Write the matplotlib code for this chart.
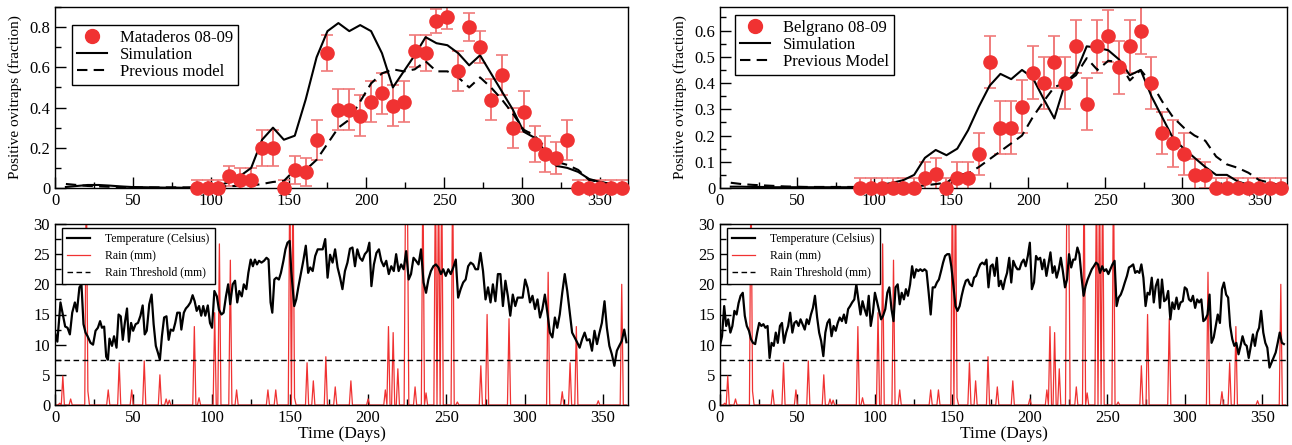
import numpy as np
import matplotlib
matplotlib.use("Agg")
import matplotlib.pyplot as plt
from matplotlib.ticker import MultipleLocator
from matplotlib.lines import Line2D

plt.rcParams['font.family'] = ['Liberation Serif', 'DejaVu Serif']

# ---------------- data ----------------
obs_days = [91, 98, 105, 112, 119, 126, 133, 140, 147, 154, 161, 168, 175, 182, 189, 196, 203, 210, 217, 224,
            231, 238, 245, 252, 259, 266, 273, 280, 287, 294, 301, 308, 315, 322, 329, 336, 343, 350, 357, 364]
mat_obs = [0, 0, 0, 0.058, 0.04, 0.04, 0.20, 0.20, 0, 0.09, 0.08, 0.24, 0.67, 0.39, 0.39, 0.36, 0.43, 0.47, 0.41, 0.43,
           0.68, 0.67, 0.83, 0.85, 0.58, 0.80, 0.70, 0.44, 0.56, 0.30, 0.38, 0.22, 0.17, 0.15, 0.24, 0, 0, 0, 0, 0]
mat_err = [0.04, 0.04, 0.04, 0.05, 0.06, 0.06, 0.09, 0.09, 0.04, 0.07, 0.07, 0.10, 0.09, 0.10, 0.10, 0.10, 0.10, 0.10, 0.10, 0.10,
           0.08, 0.09, 0.06, 0.06, 0.10, 0.07, 0.08, 0.10, 0.10, 0.10, 0.10, 0.09, 0.09, 0.08, 0.10, 0.04, 0.04, 0.04, 0.04, 0.04]
bel_obs = [0, 0, 0, 0, 0, 0, 0.04, 0.055, 0, 0.04, 0.04, 0.13, 0.48, 0.23, 0.23, 0.31, 0.44, 0.40, 0.48, 0.40,
           0.54, 0.32, 0.54, 0.58, 0.46, 0.54, 0.60, 0.40, 0.21, 0.17, 0.13, 0.05, 0.05, 0, 0, 0, 0, 0, 0, 0]
bel_err = [0.04, 0.04, 0.04, 0.04, 0.04, 0.04, 0.06, 0.06, 0.04, 0.06, 0.06, 0.08, 0.10, 0.10, 0.10, 0.10, 0.10, 0.10, 0.10, 0.10,
           0.10, 0.10, 0.10, 0.10, 0.10, 0.10, 0.09, 0.10, 0.08, 0.09, 0.08, 0.06, 0.05, 0.04, 0.04, 0.04, 0.04, 0.04, 0.04, 0.04]

sim_days = [7, 14, 21, 28, 35, 42, 49, 56, 63, 70, 77, 84, 91, 98, 105, 112, 119, 126, 133, 140, 147, 154, 161, 168, 175, 182,
            189, 196, 203, 210, 217, 224, 231, 238, 245, 252, 259, 266, 273, 280, 287, 294, 301, 308, 315, 322, 329, 336, 343, 350, 357, 364]
mat_sim = [0.005, 0.01, 0.015, 0.015, 0.012, 0.008, 0.005, 0.004, 0.003, 0.002, 0.002, 0.001, 0.003, 0.006, 0.012, 0.03, 0.06, 0.10,
           0.24, 0.30, 0.24, 0.26, 0.44, 0.65, 0.78, 0.82, 0.78, 0.81, 0.78, 0.67, 0.50, 0.58, 0.66, 0.75, 0.72, 0.71, 0.67, 0.61,
           0.66, 0.57, 0.48, 0.39, 0.28, 0.25, 0.18, 0.11, 0.10, 0.08, 0.045, 0.03, 0.02, 0.01]
mat_prev = [0.02, 0.015, 0.01, 0.008, 0.006, 0.005, 0.004, 0.003, 0.003, 0.003, 0.003, 0.003, 0.003, 0.004, 0.005, 0.01, 0.01, 0.012,
            0.02, 0.03, 0.035, 0.09, 0.09, 0.14, 0.22, 0.30, 0.34, 0.43, 0.52, 0.57, 0.59, 0.58, 0.59, 0.63, 0.58, 0.58, 0.55, 0.50,
            0.55, 0.50, 0.44, 0.37, 0.29, 0.26, 0.20, 0.13, 0.115, 0.09, 0.04, 0.03, 0.02, 0.015]
bel_sim = [0.005, 0.005, 0.004, 0.004, 0.003, 0.003, 0.003, 0.003, 0.003, 0.003, 0.003, 0.003, 0.003, 0.005, 0.012, 0.02, 0.03, 0.05,
           0.115, 0.145, 0.125, 0.15, 0.22, 0.31, 0.39, 0.435, 0.415, 0.45, 0.42, 0.34, 0.265, 0.40, 0.44, 0.54, 0.535, 0.525, 0.49, 0.43,
           0.45, 0.35, 0.27, 0.19, 0.15, 0.115, 0.08, 0.05, 0.05, 0.025, 0.012, 0.006, 0.004, 0.003]
bel_prev = [0.02, 0.015, 0.012, 0.01, 0.008, 0.006, 0.005, 0.004, 0.004, 0.004, 0.004, 0.004, 0.004, 0.004, 0.004, 0.004, 0.004, 0.005,
            0.01, 0.015, 0.02, 0.05, 0.055, 0.08, 0.11, 0.14, 0.17, 0.20, 0.27, 0.33, 0.385, 0.40, 0.43, 0.495, 0.45, 0.485, 0.48, 0.41,
            0.45, 0.40, 0.33, 0.27, 0.23, 0.20, 0.18, 0.12, 0.09, 0.077, 0.058, 0.03, 0.02, 0.01]

mat_temp_days = [0, 1.5, 3.5, 5, 6.5, 8, 9.5, 11, 12.7, 14, 15.6, 16.9, 18.2, 19.5, 20.8, 22.7, 24.3, 25.9, 27.4, 28.8, 30, 31.4,
    32.7, 33.8, 34.8, 36.4, 37.7, 39.3, 40.6, 42, 43.3, 44.6, 46, 47.2, 48.6, 49.9, 51.5, 53, 54.6, 56, 57.3, 58.6, 60.2, 61.7,
    63, 64.4, 65.7, 67, 68.3, 69.7, 71.2, 72.6, 73.9, 75.5, 76.8, 78.1, 79.7, 80.7, 82.3, 83.6, 85, 86.5, 87.9, 89.2, 90.5, 92,
    93.4, 94.7, 96, 97.6, 99, 100.3, 101.8, 103.4, 104.7, 106.3, 107.7, 109.2, 110.6, 111.9, 113.5, 115, 116.4, 117.7, 119.3,
    120.6, 122.2, 123.5, 125, 126.4, 127.7, 129, 130.3, 131.9, 133.5, 135.1, 136.4, 137.7, 138.8, 140.1, 141.4, 143, 144.3,
    145.9, 147.2, 148.5, 149.9, 150.9, 152.8, 154.1, 155.4, 157, 158.6, 160.2, 161.7, 163, 164.6, 166.2, 167.8, 169.4, 171,
    172.6, 174.1, 175.7, 177.3, 178.9, 180.5, 182.1, 183.6, 185.2, 186.8, 188.4, 190, 191.6, 193.1, 194.7, 196.3, 197.9, 199.5,
    200.8, 202.1, 203.7, 205.3, 206.9, 208.4, 210, 211.6, 213.2, 214.8, 216.4, 217.9, 219.5, 221.1, 222.7, 224.3, 225.9, 227.4,
    229, 230.6, 232.2, 233.8, 235.4, 237, 238.5, 240.1, 241.7, 243.3, 244.9, 246.5, 248, 249.6, 251.2, 252.8, 254.4, 256, 257.5,
    259.1, 260.7, 262.3, 263.9, 265.5, 267.1, 268.6, 270.2, 271.8, 273.4, 275, 276.6, 278.2, 279.7, 281.3, 282.9, 284.5, 286.1,
    287.7, 289.3, 290.8, 292.4, 294, 295.5, 297.1, 298.7, 300.3, 301.9, 303.4, 305, 306.6, 308.2, 309.8, 311.3, 312.9, 314.5,
    316.1, 317.7, 319.3, 320.8, 322.4, 324, 325.6, 327.2, 328.8, 330.3, 331.9, 333.5, 335.1, 336.7, 338.3, 339.8, 341.4, 343,
    344.6, 346.2, 347.8, 349.3, 351, 352.5, 354.1, 355.7, 357.3, 358.9, 360.4, 362, 363.6, 365]
mat_temp = [12, 10.5, 17, 15, 13, 12.8, 11.7, 15.3, 17, 15.5, 19.5, 20, 13.4, 12, 11.4, 10.3, 10, 12.3, 12.8, 13.9, 12.8, 13,
    8, 7.5, 11, 9.8, 11.4, 9.5, 15, 14.7, 10.8, 13.6, 16, 10.5, 13.6, 12.3, 13.4, 13.6, 14.8, 16.5, 11.7, 12.3, 16.7, 18.3,
    13.4, 9.8, 8.7, 7.5, 11.4, 14.5, 14.7, 10.8, 12.5, 12.3, 13.6, 15.3, 15.3, 12.5, 15.3, 16, 16.4, 17, 18.2, 17.2, 15.6, 16.4,
    14.8, 16.4, 14.8, 16.5, 13.6, 12.8, 18.9, 18, 15.8, 15, 15.3, 18, 20, 16.7, 20, 20.6, 17, 18.9, 18,
    20, 19.2, 21.9, 24.1, 23, 24.1, 23.3, 23.9, 23.6, 23.9, 24.4, 24.1, 17, 15.3, 20.8, 21.1, 20.8, 21.9,
    23.9, 25.8, 26.9, 27.2, 22.2, 16.4, 17.5, 19.5, 21.7, 23.9, 26.4, 21.9, 22.8, 22.2, 24.7, 25.8, 25.8, 25.8,
    27.5, 21.1, 24.9, 23.6, 25.8, 22.8, 21.1, 19.2, 22.2, 23.6, 25.9, 26.1, 23, 25.8, 24.4, 23.9, 25, 25.5,
    26.9, 19.7, 23.3, 25.2, 25.8, 23.9, 23, 23.9, 21.7, 23, 22.2, 25, 22.2, 23.3, 22.5, 25.5, 20.8, 21.7,
    24.4, 23.9, 23.3, 25.8, 20.3, 18.6, 20.8, 22.2, 23, 23.3, 22.8, 21.7, 22.5, 21.4, 22.5, 21.7, 22.8, 24.1, 17.8,
    19.2, 20.3, 20.8, 23, 23.6, 23.3, 22.5, 22.5, 25.2, 22.2, 17.5, 19.5, 17, 20, 17.2, 21.7, 21.7, 16.4,
    20.6, 18, 14.8, 18.3, 16.4, 17.8, 17.8, 17.8, 20.8, 19.4, 17, 18.1, 15.9, 17.5, 14.5, 15.9, 18.3, 15.3,
    12, 11.2, 14.5, 12.8, 15, 18.6, 21.7, 18.9, 15.3, 12, 11.2, 10.4, 9.5, 10.9, 12, 10.7, 10.9, 9,
    12.3, 10.1, 12, 13.6, 17.2, 12.8, 9.8, 8.4, 6.5, 9, 9.8, 10.6, 12.5, 10.4]

bel_temp_days = [0, 1.3, 2.7, 4, 5.3, 6.7, 8, 9.3, 10.7, 12, 13.3, 14.7, 16, 17.3, 18.7, 20, 21.3, 22.7, 24, 25.3, 26.7, 28,
    29.3, 30.7, 32, 33.3, 34.7, 36, 37.3, 38.7, 40, 41.3, 42.7, 44, 45.3, 46.7, 48, 49.3, 50.7, 52, 53.3, 54.7, 56, 57.3, 58.7,
    60, 61.3, 62.7, 64, 65.3, 66.7, 68, 69.3, 70.7, 72, 73.3, 74.7, 76, 77.3, 78.7, 80, 81.3, 82.7, 84, 85.3, 86.7, 88, 89.3,
    90.7, 92, 93.3, 94.7, 96, 97.3, 98.7, 100, 101.3, 102.7, 104, 105.3, 106.7, 108, 109.3, 110.7, 112, 113.3, 114.7, 116,
    117.3, 118.7, 120, 121.3, 122.7, 124, 125.3, 126.7, 128, 129.3, 130.7, 132, 133.3, 134.7, 136, 137.3, 138.7, 140, 141.3,
    142.7, 144, 145.3, 146.7, 148, 149.3, 150.7, 152, 153.3, 154.7, 156, 157.3, 158.7, 160, 161.3, 162.7, 164, 165.3, 166.7,
    168, 169.3, 170.7, 172, 173.3, 174.7, 176, 177.3, 178.7, 180, 181.3, 182.7, 184, 185.3, 186.7, 188, 189.3, 190.7, 192,
    193.3, 194.7, 196, 197.3, 198.7, 200, 201.3, 202.7, 204, 205.3, 206.7, 208, 209.3, 210.7, 212, 213.3, 214.7, 216, 217.3,
    218.7, 220, 221.3, 222.7, 224, 225.3, 226.7, 228, 229.3, 230.7, 232, 233.3, 234.7, 236, 237.3, 238.7, 240, 241.3, 242.7,
    244, 245.3, 246.7, 248, 249.3, 250.7, 252, 253.3, 254.7, 256, 257.3, 258.7, 260, 261.3, 262.7, 264, 265.3, 266.7, 268,
    269.3, 270.7, 272, 273.3, 274.7, 276, 277.3, 278.7, 280, 281.3, 282.7, 284, 285.3, 286.7, 288, 289.3, 290.7, 292, 293.3,
    294.7, 296, 297.3, 298.7, 300, 301.3, 302.7, 304, 305.3, 306.7, 308, 309.3, 310.7, 312, 313.3, 314.7, 316, 317.3, 318.7,
    320, 321.3, 322.7, 324, 325.3, 326.7, 328, 329.3, 330.7, 332, 333.3, 334.7, 336, 337.3, 338.7, 340, 341.3, 342.7, 344,
    345.3, 346.7, 348, 349.3, 350.7, 352, 353.3, 354.7, 356, 357.3, 358.7, 360, 361.3, 362.7, 364]
bel_temp = [9.8, 11.4, 16.4, 13.1, 14.2, 12, 13.1, 15.6, 15, 16.9, 18.1, 18.6, 14.8, 13.1, 12.3, 10.9, 10.3, 10.1, 12, 13.6,
    13.1, 13.4, 12.8, 13.1, 7.8, 10.3, 9.8, 12, 10.3, 13.1, 13.6, 10.3, 12, 13.1, 15.3, 12, 13.6, 13.9, 13.1, 14.2, 13.4, 12.5,
    14.2, 13.4, 15, 16.1, 18.1, 14.5, 12, 10.6, 8.1, 12, 13.6, 14.2, 11.4, 13.1, 12.3, 13.6, 14.5, 13.9, 15, 13.6, 15.9, 16.4,
    17, 17.5, 20, 17.5, 15, 17.2, 15.9, 14.8, 18.1, 13.1, 15.3, 18.6, 17.2, 15.6, 14.2, 14.8, 15.9, 18.6, 19.5, 15.9, 13.9,
    19.5, 20, 16.7, 18.6, 17.5, 19.2, 18.1, 20, 23, 21.1, 22.5, 22.2, 22.5, 22.2, 22.5, 22.2, 18.6, 15, 19.5, 19.5, 20.3,
    20.8, 22.2, 23.6, 24.7, 25, 25, 23, 19.7, 16.4, 15.6, 16.4, 18.1, 19.5, 20.6, 20.8, 20, 19.7, 21.1, 21.4, 22.5, 23.3,
    23.6, 23.3, 24.1, 19.5, 23, 23.3, 21.4, 24.4, 19.7, 20.6, 19.2, 20.8, 21.9, 24.4, 20.3, 23.9, 23, 22.5, 22.5, 23.6, 24.1,
    23, 24.7, 26.9, 19.2, 20.3, 24.7, 24.1, 24.4, 22.5, 24.1, 21.4, 23.3, 25.3, 21.9, 23, 21.1, 22.5, 24.4, 22.2, 19.5, 20.8,
    25, 22.8, 24.1, 24.1, 26.1, 25, 21.4, 18.1, 19.7, 20.8, 21.7, 22.5, 23, 23.6, 23.3, 21.9, 23, 22.2, 22.5, 21.7, 22.5, 23.3,
    23.9, 16.4, 17.8, 18.3, 19.2, 20.3, 21.4, 22.8, 23, 23.3, 21.9, 22.2, 21.9, 23.3, 21.1, 16.4, 18.6, 18.3, 21.1, 17, 19.7,
    20.8, 16.1, 20.8, 17.2, 17.5, 18.9, 14.2, 17, 15.9, 17.8, 15.9, 17, 17.2, 19.5, 19.2, 17.5, 17.2, 18.1, 16.1, 17.5, 17,
    17.5, 13.9, 14.2, 15, 18.3, 10.3, 11.2, 13.1, 15, 13.6, 19.2, 20.3, 18.3, 17.8, 13.1, 10.9, 9.8, 10.3, 8.4, 9.8, 11.4,
    10.1, 9.8, 7.8, 9.8, 11.7, 9.8, 12, 12.8, 15.6, 12, 10.3, 9.5, 6.2, 7, 7.8, 8.7, 10.3, 12, 10.3, 10.1]

rain_days = [3, 5, 10, 20, 21, 34, 41, 49, 57, 67, 71, 73, 89, 92, 102, 105, 112, 116, 136, 141, 150, 152, 153, 161, 165,
             173, 179, 189, 200, 211, 213, 216, 219, 224, 225, 230, 235, 237, 243, 245, 247, 254, 257, 272, 276, 290,
             315, 324, 329, 333, 347, 362]
rain_mm = [0.3, 4.8, 1.0, 40, 2.3, 2.5, 7.0, 2.5, 7.3, 5.0, 1.0, 0.8, 13, 1.2, 15.3, 26.7, 24, 2.5, 2.5, 2.5, 40, 40, 1.2,
           7.0, 4.0, 8.0, 3.0, 4.0, 1.0, 2.5, 13, 12, 6.0, 40, 40, 3.0, 40, 2.0, 40, 40, 40, 40, 0.5, 6.5, 15, 14.3,
           22, 2.2, 7.0, 13, 0.7, 20]
rain_threshold = 7.5

# ---------------- figure ----------------
W, H = 1292, 445
fig = plt.figure(figsize=(W / 100, H / 100), dpi=100)

def ax_rect(x0, x1, ytop, ybot):
    return [x0 / W, 1 - ybot / H, (x1 - x0) / W, (ybot - ytop) / H]

ax_tl = fig.add_axes(ax_rect(55, 628, 7, 188))
ax_bl = fig.add_axes(ax_rect(55, 628, 224, 405))
ax_tr = fig.add_axes(ax_rect(720, 1287, 7, 188))
ax_br = fig.add_axes(ax_rect(720, 1287, 224, 405))

red = '#f03232'
err_red = '#f07a7a'

def style(ax):
    ax.tick_params(which='both', direction='in', top=False, right=False, labelsize=12)
    ax.tick_params(which='major', length=8, width=1)
    ax.tick_params(which='minor', length=4, width=1)
    for s in ax.spines.values():
        s.set_linewidth(1.0)
    ax.xaxis.set_major_locator(MultipleLocator(50))
    ax.xaxis.set_minor_locator(MultipleLocator(25))

def top_panel(ax, obs, err, sim, prev, label, prevlabel, ymax, major, minor, anchor):
    ax.errorbar(obs_days, obs, yerr=err, fmt='none', ecolor=err_red, elinewidth=1.4, capsize=4, capthick=1.2, zorder=2)
    ax.plot(sim_days, sim, color='black', lw=1.5, zorder=3)
    ax.plot(sim_days, prev, color='black', lw=1.5, ls=(0, (5, 3)), zorder=3)
    ax.plot(obs_days, obs, 'o', color=red, ms=9.5, mec=red, zorder=4, clip_on=False)
    ax.set_xlim(0, 368)
    ax.set_ylim(0, ymax)
    style(ax)
    ax.yaxis.set_major_locator(MultipleLocator(major))
    ax.yaxis.set_minor_locator(MultipleLocator(minor))
    ax.yaxis.set_major_formatter(plt.FuncFormatter(lambda v, p: '0' if abs(v) < 1e-9 else '%g' % v))
    ax.set_ylabel('Positive ovitraps (fraction)', fontsize=11, labelpad=5)
    handles = [Line2D([], [], marker='o', color=red, ms=10, ls='none'),
               Line2D([], [], color='black', lw=1.5),
               Line2D([], [], color='black', lw=1.5, ls=(0, (5, 3)))]
    leg = ax.legend(handles, [label, 'Simulation', prevlabel], loc='upper left', fontsize=12,
                    frameon=True, fancybox=False, edgecolor='black', framealpha=1,
                    bbox_to_anchor=anchor, handlelength=1.8, borderpad=0.3, labelspacing=0.05,
                    handletextpad=0.8, borderaxespad=0)
    leg.get_frame().set_linewidth(1.0)

top_panel(ax_tl, mat_obs, mat_err, mat_sim, mat_prev, 'Mataderos 08-09', 'Previous model', 0.9, 0.2, 0.1,
          (17 / 573, 1 - 18 / 181))
top_panel(ax_tr, bel_obs, bel_err, bel_sim, bel_prev, 'Belgrano 08-09', 'Previous Model', 0.69, 0.1, 0.05,
          (15 / 567, 1 - 8 / 181))

rain_series = np.zeros(366)
for d, v in zip(rain_days, rain_mm):
    rain_series[d] = v

def bottom_panel(ax, tdays, temps):
    ax.plot(np.arange(366), rain_series, color=red, lw=0.9, zorder=2)
    ax.plot(tdays, temps, color='black', lw=1.6, zorder=3)
    ax.axhline(rain_threshold, color='black', lw=1.0, ls=(0, (4, 2.5)), zorder=3)
    ax.set_xlim(0, 366)
    ax.set_ylim(0, 30)
    style(ax)
    ax.yaxis.set_major_locator(MultipleLocator(5))
    ax.yaxis.set_minor_locator(MultipleLocator(2.5))
    ax.set_xlabel('Time (Days)', fontsize=12.5, labelpad=0)
    handles = [Line2D([], [], color='black', lw=1.6),
               Line2D([], [], color=red, lw=0.9),
               Line2D([], [], color='black', lw=1.0, ls=(0, (4, 2.5)))]
    leg = ax.legend(handles, ['Temperature (Celsius)', 'Rain (mm)', 'Rain Threshold (mm)'], loc='upper left',
                    fontsize=8.5, frameon=True, fancybox=False, edgecolor='black', framealpha=1,
                    bbox_to_anchor=(7 / 573, 1 - 4 / 181), handlelength=1.9, borderpad=0.45, labelspacing=0.4,
                    handletextpad=1.3, borderaxespad=0)
    leg.get_frame().set_linewidth(1.0)

bottom_panel(ax_bl, mat_temp_days, mat_temp)
bottom_panel(ax_br, bel_temp_days, bel_temp)

fig.savefig('out.png', dpi=100)
